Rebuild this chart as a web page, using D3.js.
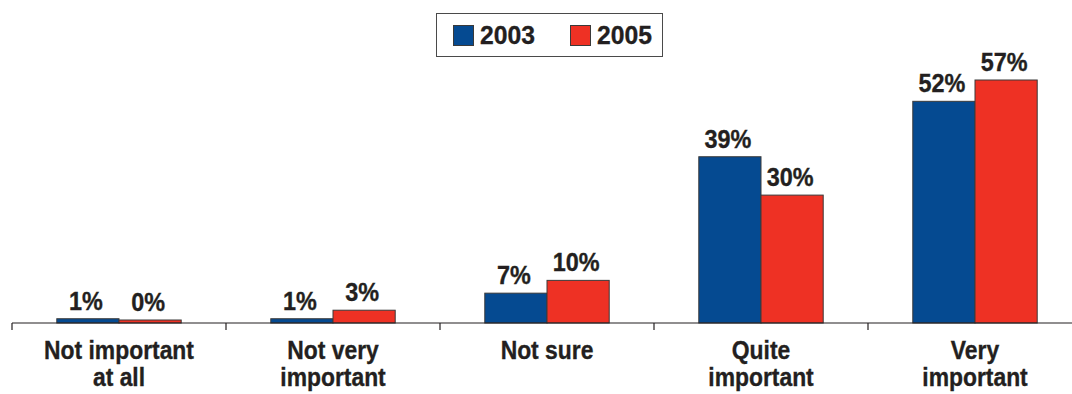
<!DOCTYPE html>
<html>
<head>
<meta charset="utf-8">
<script src="https://cdn.jsdelivr.net/npm/d3@7"></script>
<style>
  html, body { margin: 0; padding: 0; background: #fff; }
  svg { display: block; }
  text { font-family: "Liberation Sans", Arial, sans-serif; font-weight: bold; fill: #231f20; stroke: #231f20; stroke-width: 0.35px; }
</style>
</head>
<body>
<svg id="chart" width="1072" height="394"></svg>
<script>
// Importance ratings, share of respondents (%)
const categories = [["Not important", "at all"], ["Not very", "important"], ["Not sure"], ["Quite", "important"], ["Very", "important"]];
const seriesNames = ["2003", "2005"];
const values2003 = [1, 1, 7, 39, 52];
const values2005 = [0, 3, 10, 30, 57];
const colors = ["#054a91", "#ee3124"];

const svg = d3.select("#chart");
const baseY = 323;
const minBar = 3; // keep very small bars visible

const x = d3.scaleBand()
  .domain(categories.map((c, i) => i))
  .range([12, 1082])
  .paddingInner(0).paddingOuter(0);

const xSeries = d3.scaleBand()
  .domain(seriesNames)
  .range([0, x.bandwidth()])
  .paddingInner(0)
  .paddingOuter(0.72);

const y = d3.scaleLinear().domain([0, 57]).range([baseY, 80]);
const barTop = v => Math.min(y(v), baseY - minBar);

const data = categories.map((c, i) => ({ i, vals: [values2003[i], values2005[i]] }));

// bars
const groups = svg.append("g").selectAll("g")
  .data(data).join("g")
  .attr("transform", d => `translate(${x(d.i)},0)`);

groups.selectAll("rect")
  .data(d => d.vals.map((v, k) => ({ v, k })))
  .join("rect")
  .attr("x", d => xSeries(seriesNames[d.k]))
  .attr("width", xSeries.bandwidth())
  .attr("y", d => barTop(d.v))
  .attr("height", d => baseY - barTop(d.v))
  .attr("fill", d => colors[d.k])
  .attr("stroke", "#3a3a3a")
  .attr("stroke-width", 1);

// value labels (narrowed horizontally)
groups.selectAll("text.val")
  .data(d => d.vals.map((v, k) => ({ v, k })))
  .join("text")
  .attr("class", "val")
  .attr("transform", d => `translate(${xSeries(seriesNames[d.k]) + xSeries.bandwidth() / 2 - 2},${barTop(d.v) - 9}) scale(0.9,1)`)
  .attr("text-anchor", "middle")
  .attr("font-size", 26)
  .text(d => d.v + "%");

// x axis line and category boundary ticks
const axisG = svg.append("g").attr("transform", `translate(0,${baseY})`);
axisG.append("line")
  .attr("x1", 12).attr("x2", 1072)
  .attr("stroke", "#231f20").attr("stroke-width", 1.2);
const edges = x.domain().map(i => x(i)).concat([x.range()[1]]);
axisG.selectAll("line.tick")
  .data(edges).join("line")
  .attr("class", "tick")
  .attr("x1", d => d).attr("x2", d => d)
  .attr("y1", 0).attr("y2", 7)
  .attr("stroke", "#231f20").attr("stroke-width", 1.2);

// category labels
const catLabels = svg.append("g").selectAll("text")
  .data(data).join("text")
  .attr("text-anchor", "middle")
  .attr("font-size", 26)
  .attr("transform", d => `translate(${x(d.i) + x.bandwidth() / 2},359) scale(0.88,1)`);
catLabels.selectAll("tspan")
  .data(d => categories[d.i])
  .join("tspan")
  .attr("x", 0)
  .attr("dy", (d, k) => k === 0 ? 0 : 27)
  .text(d => d);

// legend
const legend = svg.append("g");
legend.append("rect")
  .attr("x", 436.5).attr("y", 13.5).attr("width", 226).attr("height", 43)
  .attr("fill", "#fff").attr("stroke", "#4a4a4a").attr("stroke-width", 1);
const items = legend.selectAll("g.item")
  .data(seriesNames).join("g")
  .attr("class", "item")
  .attr("transform", (d, k) => `translate(${453 + k * 117},0)`);
items.append("rect")
  .attr("x", 0.5).attr("y", 25.5).attr("width", 20).attr("height", 20)
  .attr("fill", (d, k) => colors[k])
  .attr("stroke", "#3a3a3a").attr("stroke-width", 1);
items.append("text")
  .attr("transform", "translate(27,44) scale(0.95,1)")
  .attr("font-size", 26)
  .text(d => d);
</script>
</body>
</html>
